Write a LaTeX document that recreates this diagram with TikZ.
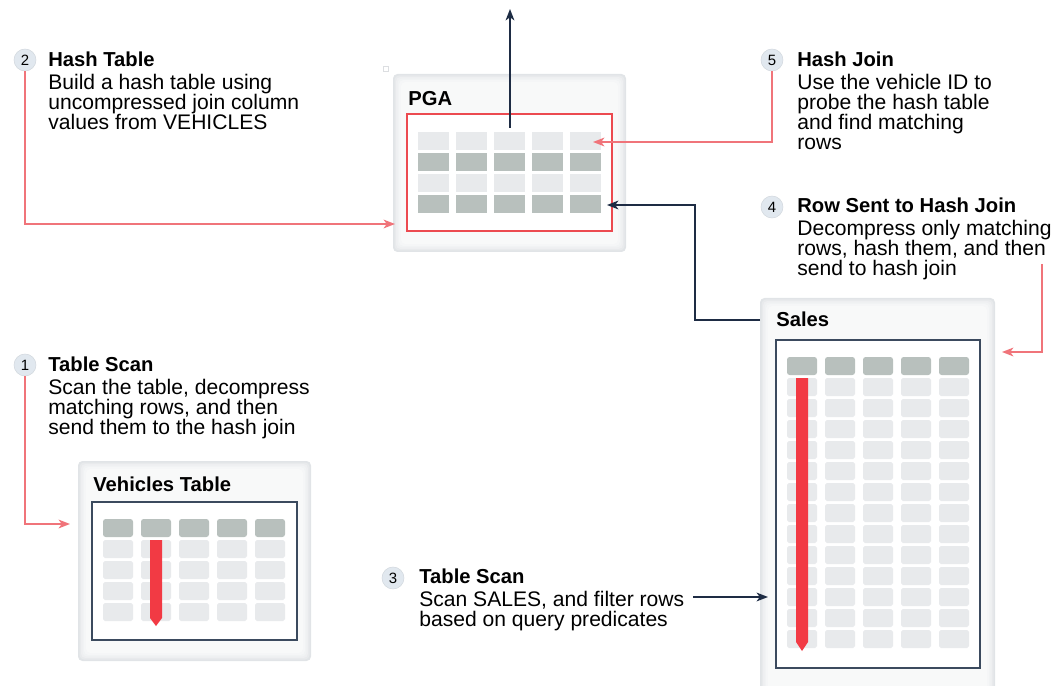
\documentclass[tikz,border=0pt]{standalone}
\usepackage{fontspec}
\setmainfont{Liberation Sans}
\usetikzlibrary{arrows.meta,positioning}

\definecolor{navy}{HTML}{1E2C44}
\definecolor{frameline}{HTML}{3B4A5E}
\definecolor{hashred}{HTML}{EC4A50}
\definecolor{linkred}{HTML}{F0747A}
\definecolor{barred}{HTML}{F23A44}
\definecolor{celllight}{HTML}{E8EAEC}
\definecolor{celldark}{HTML}{B8C0BD}
\definecolor{stepfill}{HTML}{E1E8EF}
\definecolor{paneledge}{HTML}{E1E4E7}
\definecolor{panelin}{HTML}{F8F9F9}

\tikzset{
  stepnum/.style={circle, fill=stepfill, draw=stepfill!85!gray, line width=0.3pt,
    inner sep=0pt, minimum size=0.44cm, font=\fontsize{8.5}{9}\selectfont},
  steptext/.style={anchor=north west, align=left, inner sep=0pt,
    font=\fontsize{12}{11.4}\selectfont},
  paneltitle/.style={anchor=base west, inner sep=0pt,
    font=\fontsize{11.5}{12}\selectfont\bfseries},
  redlink/.style={draw=linkred, line width=0.85pt,
    -{Stealth[length=6.5pt, width=5pt, inset=1.8pt]}},
  navylink/.style={draw=navy, line width=0.85pt,
    -{Stealth[length=6.5pt, width=5pt, inset=1.8pt]}},
}
\newcommand{\steptitle}[1]{{\fontsize{11.5}{11.4}\selectfont\bfseries #1}\\[1.2pt]}
\newcommand{\glowpanel}[4]{%
  \foreach \d/\m in {0/0,1.5/30,3/55,4.5/72,6/86,8/100}
    \fill[panelin!\m!paneledge, rounded corners=2.5pt]
      (#1+\d,#2+\d) rectangle (#3-\d,#4-\d);}

\begin{document}
\begin{tikzpicture}[x=0.02cm, y=-0.02cm]
  \useasboundingbox (0,0) rectangle (1063,686);

  % panels
  \glowpanel{393}{74}{626}{252}
  \glowpanel{78}{461}{311}{661}
  \glowpanel{760}{298}{995}{700}
  \draw[stepfill!70!gray!60, line width=0.3pt] (383,66) rectangle (388,71);

  % PGA
  \node[paneltitle] (pgatitle) at (408,106) {PGA};
  \draw[hashred, fill=white, line width=0.85pt] (407,114) rectangle (612,231);
  \foreach \c in {0,...,4}
    \foreach \r/\col in {0/celllight,1/celldark,2/celllight,3/celldark}
      \fill[\col] (418+38*\c,132+21*\r) rectangle ++(31,18);

  % vehicles table
  \node[paneltitle] (vtitle) at (93,491) {Vehicles Table};
  \draw[frameline, fill=white, line width=0.7pt] (92,502) rectangle (297,640);
  \foreach \c in {0,...,4}{
    \fill[celldark, rounded corners=1.5pt] (103+38*\c,519) rectangle ++(30,18);
    \foreach \r in {0,...,3}
      \fill[celllight, rounded corners=1pt] (103+38*\c,540+21*\r) rectangle ++(30,18);
  }
  \fill[barred] (150,540) -- (162,540) -- (162,618) -- (156,626) -- (150,618) -- cycle;

  % sales table
  \node[paneltitle] (stitle) at (776,327) {Sales};
  \draw[frameline, fill=white, line width=0.7pt] (776,340) rectangle (980,668);
  \foreach \c in {0,...,4}{
    \fill[celldark, rounded corners=1.5pt] (787+38*\c,357) rectangle ++(30,18);
    \foreach \r in {0,...,12}
      \fill[celllight, rounded corners=1pt] (787+38*\c,378+21*\r) rectangle ++(30,18);
  }
  \fill[barred] (796,378) -- (808,378) -- (808,642) -- (802,651) -- (796,642) -- cycle;

  % steps
  \node[stepnum] (s2) at (25,60) {2};
  \node[steptext] (t2) at (48,52) {\steptitle{Hash Table}
    Build a hash table using\\ uncompressed join column\\ values from VEHICLES};
  \node[stepnum] (s5) at (772,60) {5};
  \node[steptext] (t5) at (797,52) {\steptitle{Hash Join}
    Use the vehicle ID to\\ probe the hash table\\ and find matching\\ rows};
  \node[stepnum] (s4) at (772,207) {4};
  \node[steptext] (t4) at (797,198) {\steptitle{Row Sent to Hash Join}
    Decompress only matching\\ rows, hash them, and then\\ send to hash join};
  \node[stepnum] (s1) at (25,365) {1};
  \node[steptext] (t1) at (48,357) {\steptitle{Table Scan}
    Scan the table, decompress\\ matching rows, and then\\ send them to the hash join};
  \node[stepnum] (s3) at (393,578) {3};
  \node[steptext] (t3) at (419,569) {\steptitle{Table Scan}
    Scan SALES, and filter rows\\ based on query predicates};

  % connector ends
  \coordinate (pgaleft) at (395,224);
  \coordinate (probe) at (593,142);
  \coordinate (pgarow) at (607,205);
  \coordinate (hashout) at (510,128);
  \coordinate (result) at (510,9);
  \coordinate (vleft) at (70,524);
  \coordinate (sright) at (1002,352);
  \coordinate (t4end) at (1042,264);
  \coordinate (t3end) at (693,597);
  \coordinate (sleft) at (768,597);
  \coordinate (sout) at (760,320);

  \draw[redlink] (s2) |- (pgaleft);
  \draw[redlink] (s5) |- (probe);
  \draw[redlink] (s1) |- (vleft);
  \draw[redlink] (t4end) |- (sright);
  \draw[navylink] (t3end) -- (sleft);
  \draw[navylink] (sout) -- ++(-65,0) |- (pgarow);
  \draw[navylink] (hashout) -- (result);
\end{tikzpicture}
\end{document}
